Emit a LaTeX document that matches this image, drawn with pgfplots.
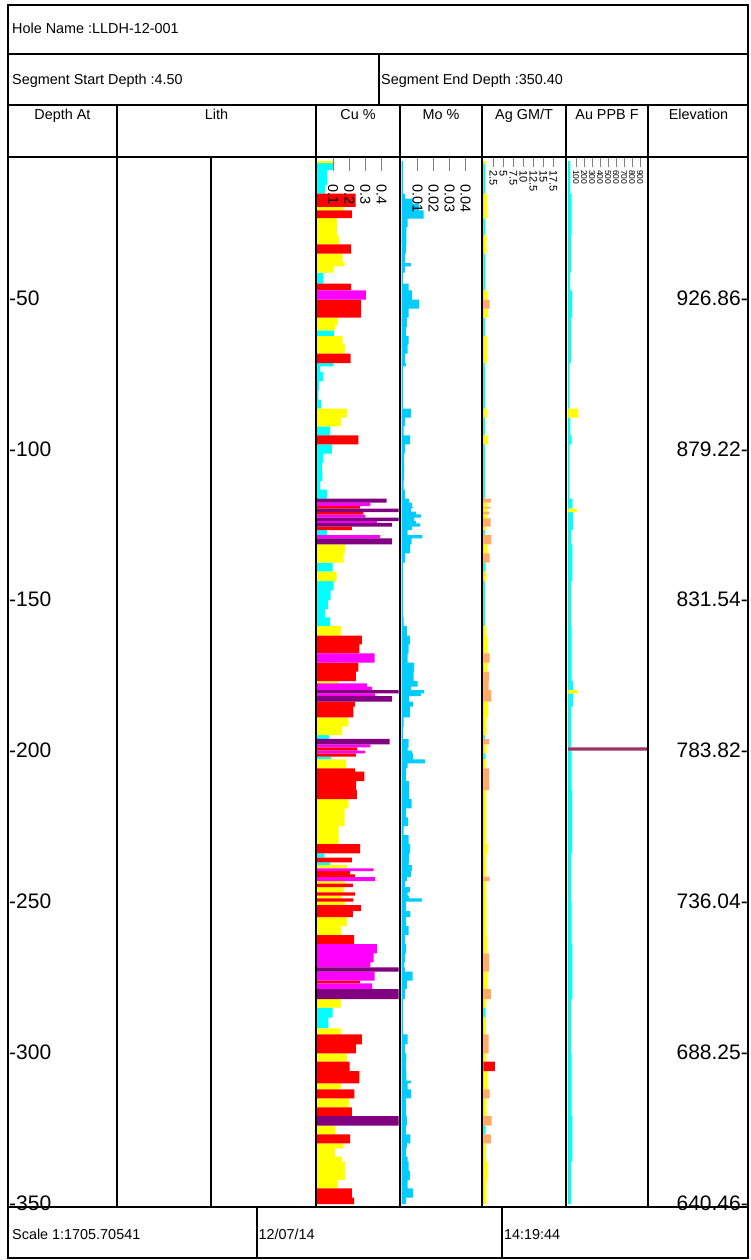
\documentclass[border=0pt]{standalone}
\usepackage{pgfplots}
\pgfplotsset{compat=1.18}
\usepackage{pgfplotstable}
\usepackage{fontspec}
\setmainfont{Liberation Sans}
\definecolor{cuc}{HTML}{00FFFF}
\definecolor{cuy}{HTML}{FFFF00}
\definecolor{cur}{HTML}{FF0000}
\definecolor{cum}{HTML}{FF00FF}
\definecolor{cup}{HTML}{800080}
\definecolor{mob}{HTML}{00CCFF}
\definecolor{ago}{HTML}{FFAA66}
\definecolor{aup}{HTML}{993366}

% Cu %: depth from, value, class (1 cyan, 2 yellow, 3 red, 4 magenta, 5 purple)
\pgfplotstableread{
d v k
4.5 0.10 2
5.25 0.10 1
7.57 0.065 1
12.54 0.05 1
15.42 0.24 3
19.83 0.165 2
20.93 0.216 3
23.48 0.124 2
29.21 0.14 2
32.20 0.212 3
35.31 0.159 2
38.07 0.171 2
39.49 0.103 2
41.61 0.041 1
45.26 0.212 3
47.45 0.302 4
50.56 0.274 3
56.53 0.128 2
59.05 0.113 2
60.71 0.105 1
62.60 0.159 2
65.35 0.173 2
68.46 0.208 3
71.55 0.103 1
72.64 0.02 1
74.53 0.041 1
77.51 0.014 1
80.60 0.01 1
83.71 0.027 1
86.69 0.185 2
89.68 0.148 2
92.53 0.082 1
95.51 0.257 3
98.50 0.093 1
101.61 0.041 1
104.69 0.031 1
107.68 0.035 1
110.66 0.02 1
113.55 0.062 1
116.53 0.43 5
117.86 0.33 4
118.95 0.265 3
119.84 0.6 5
120.94 0.288 3
121.77 0.30 4
122.76 0.6 5
123.92 0.37 4
124.58 0.463 5
125.81 0.216 3
126.91 0.062 1
128.56 0.39 4
129.66 0.463 5
131.64 0.175 2
134.63 0.165 2
137.74 0.097 1
140.73 0.123 2
143.81 0.103 1
146.89 0.086 1
150.11 0.068 1
153.09 0.051 1
155.84 0.082 1
158.73 0.15 2
161.94 0.278 3
164.79 0.263 3
167.78 0.356 4
170.90 0.257 3
173.88 0.241 3
176.96 0.134 2
177.72 0.309 4
178.85 0.34 4
179.94 0.6 5
181.04 0.36 4
181.93 0.463 5
183.82 0.237 3
185.48 0.226 3
188.99 0.195 2
192.11 0.154 2
194.86 0.076 1
196.18 0.449 5
197.94 0.33 4
198.94 0.251 3
200.06 0.298 4
200.93 0.241 3
202.05 0.088 1
202.92 0.181 2
205.90 0.237 3
207.03 0.294 3
210.11 0.243 3
213.09 0.247 3
216.08 0.195 2
219.16 0.171 2
222.14 0.171 2
225.03 0.134 2
228.01 0.134 2
231.00 0.267 3
234.08 0.047 1
235.47 0.216 3
237.06 0.082 1
237.96 0.185 2
239.05 0.35 4
239.95 0.206 3
241.04 0.237 3
241.93 0.36 4
243.26 0.175 2
244.15 0.222 3
245.25 0.165 2
247.00 0.237 3
248.13 0.154 2
249.00 0.226 3
250.12 0.175 2
251.22 0.274 3
253.20 0.222 3
255.19 0.185 2
258.17 0.15 2
261.16 0.23 3
264.14 0.37 4
267.22 0.35 4
270.21 0.33 4
271.86 0.6 5
273.32 0.356 4
276.31 0.267 3
277.17 0.342 4
279.06 0.6 5
282.37 0.148 2
285.26 0.097 1
288.58 0.072 1
292.09 0.15 2
294.08 0.278 3
297.39 0.241 3
300.38 0.185 2
303.16 0.202 3
306.24 0.263 3
310.32 0.148 2
312.31 0.232 3
315.29 0.2 2
318.27 0.216 3
321.16 0.6 5
324.38 0.115 2
327.23 0.206 3
330.21 0.165 2
331.87 0.113 2
334.65 0.154 2
336.31 0.175 2
342.38 0.128 2
345.12 0.216 3
348.24 0.23 3
350.4 0 1
}\cutab

% Mo %
\pgfplotstableread{
d v
4.5 0.0009
15.41 0.0023
17.07 0.0069
18.73 0.011
20.94 0.0138
23.70 0.0038
26.46 0.0031
32.54 0.0027
35.30 0.0023
38.40 0.0058
39.50 0.0021
41.60 0.0008
45.25 0.0044
47.46 0.0065
50.55 0.011
53.54 0.0044
56.52 0.0033
59.61 0.0027
62.60 0.0044
65.36 0.0038
68.45 0.0023
71.55 0.0027
72.65 0.0009
86.69 0.0058
89.67 0.0021
92.54 0.0013
95.52 0.0054
98.51 0.0023
101.60 0.0015
104.70 0.0017
107.68 0.0015
110.66 0.0013
113.54 0.0023
116.52 0.0048
117.85 0.0065
119.29 0.0073
119.72 0.0058
120.83 0.009
121.71 0.0121
122.82 0.0079
123.92 0.009
124.70 0.0117
125.80 0.0065
126.91 0.0038
128.56 0.0131
129.67 0.0063
131.66 0.0054
134.64 0.0023
137.74 0.0009
155.86 0.0013
158.73 0.0033
161.93 0.0052
164.81 0.0044
167.79 0.0038
170.89 0.0079
173.87 0.0075
176.96 0.01
178.84 0.0058
179.95 0.0142
181.05 0.0121
181.94 0.0048
183.81 0.0073
185.47 0.0052
189.01 0.0013
192.10 0.0008
196.19 0.0044
199.06 0.0038
200.06 0.0065
200.94 0.0073
202.93 0.0148
204.26 0.0038
205.91 0.0027
210.11 0.0048
216.08 0.0063
219.17 0.0027
222.15 0.0042
225.03 0.0013
228.01 0.0044
231.00 0.0054
234.09 0.0048
237.07 0.0044
237.95 0.0065
239.94 0.0058
241.93 0.0033
243.26 0.0023
245.25 0.0052
247.02 0.0038
248.12 0.0048
249.00 0.0127
250.11 0.0027
253.20 0.0056
255.19 0.0027
258.18 0.0044
261.16 0.0021
264.14 0.0027
267.24 0.0023
270.22 0.0017
271.88 0.0021
273.31 0.0069
276.30 0.0033
279.06 0.0021
282.37 0.0009
285.25 0.0008
292.10 0.001
294.09 0.0038
297.40 0.0021
300.39 0.0031
303.15 0.0027
306.24 0.0031
309.45 0.0058
310.33 0.0038
312.32 0.006
315.30 0.0027
318.29 0.0027
321.16 0.0033
324.36 0.0027
327.24 0.0056
330.22 0.0033
331.88 0.0027
334.64 0.0038
336.30 0.0044
339.28 0.0052
342.37 0.0038
345.14 0.0073
348.23 0.0027
350.4 0
}\motab

% Ag GM/T: class 1 cyan, 2 yellow, 3 orange, 4 red
\pgfplotstableread{
d v k
4.5 0.85 2
5.47 0.5 1
15.41 0.95 2
23.70 0.5 1
29.23 0.85 2
35.30 0.5 1
47.46 1.05 2
50.55 1.6 3
53.54 1.15 2
56.52 0.4 1
62.60 0.95 2
71.55 0.45 1
86.69 0.95 2
89.67 0.4 1
95.52 1.15 2
98.51 0.4 1
116.52 1.9 3
117.85 1.05 2
119.29 1.8 3
119.72 1.05 2
120.83 1.45 3
121.71 1.05 2
123.04 1.8 3
125.80 0.85 2
126.91 0.4 1
128.56 2.0 3
131.66 1.05 2
134.64 1.6 3
137.74 0.6 1
140.72 0.75 2
143.81 0.4 1
158.73 0.75 2
161.93 1.05 2
167.79 1.6 3
170.89 1.05 2
173.87 1.45 3
176.96 1.35 3
179.95 2.0 3
183.81 1.15 2
189.01 0.85 2
194.86 0.4 1
196.19 1.45 3
197.96 0.85 2
200.94 0.6 1
202.93 0.75 2
205.91 1.45 3
213.10 0.75 2
231.00 1.05 2
234.09 0.75 2
241.82 1.6 3
243.26 0.75 2
249.00 0.85 2
261.16 0.95 2
267.24 1.45 3
273.31 1.05 2
279.06 1.9 3
282.37 0.75 2
285.25 0.6 1
288.56 0.65 2
294.09 1.35 3
300.39 0.75 2
303.15 2.9 4
306.24 1.05 2
312.32 1.6 3
315.30 0.85 2
321.16 2.1 3
324.36 0.6 1
327.24 1.9 3
330.22 0.65 2
336.30 1.05 2
342.37 0.85 2
350.4 0 1
}\agtab

% Au PPB: class 1 cyan, 2 yellow, 5 purple
\pgfplotstableread{
d v k
4.5 30 1
15.4 45 1
29.2 35 1
41.6 25 1
47.45 50 1
56.53 35 1
71.55 20 1
86.69 130 2
89.68 30 1
95.51 45 1
98.5 20 1
116.53 55 1
119.84 110 2
120.94 60 1
126.91 40 1
131.64 55 1
143.81 35 1
158.73 45 1
176.96 60 1
179.94 120 2
181.04 60 1
185.48 40 1
198.94 2000 5
200.06 45 1
213.09 50 1
234.08 40 1
250.12 45 1
264.14 55 1
282.37 35 1
300.38 45 1
321.16 55 1
336.31 40 1
350.4 0 1
}\autab

\pgfplotsset{
  logcol/.style={scale only axis, height=1050pt, anchor=north west,
    ymin=3.26, ymax=351.33, y dir=reverse, xmin=0, axis on top,
    axis line style={draw=none}, ytick=\empty, scaled ticks=false,
    xtick pos=right, xticklabel pos=right, tick align=inside,
    major tick length=14pt,
    tick style={color=gray, line width=0.9pt},
    xticklabel style={rotate=-90, anchor=west, inner sep=0pt,
      font=\fontsize{14.4pt}{16pt}\selectfont},
    xticklabel shift=-27pt, clip=true},
  bars/.style={xbar interval, draw=none, fill=#1},
}
\newcommand{\hfont}{\fontsize{14.4pt}{17pt}\selectfont}
\newcommand{\dfont}{\fontsize{21pt}{24pt}\selectfont}

\begin{document}
\begin{tikzpicture}
\path[use as bounding box] (0pt,0pt) rectangle (750pt,-1260pt);

% Depth axis (labels only)
\begin{axis}[scale only axis, anchor=north west, at={(9pt,-157pt)},
  width=107pt, height=1050pt, ymin=3.26, ymax=351.33, y dir=reverse,
  xmin=0, xmax=1, xtick=\empty, axis line style={draw=none},
  ytick={50,100,150,200,250,300,350},
  yticklabels={-50,-100,-150,-200,-250,-300,-350},
  major tick length=0pt,
  yticklabel style={anchor=west, inner sep=0pt, font=\dfont}]
\addplot[draw=none] coordinates {(0,50) (0,350)};
\end{axis}

% Elevation axis (labels only)
\begin{axis}[scale only axis, anchor=north west, at={(649.5pt,-157pt)},
  width=98.5pt, height=1050pt, ymin=3.26, ymax=351.33, y dir=reverse,
  xmin=0, xmax=1, xtick=\empty, axis line style={draw=none},
  ytick={50,100,150,200,250,300,350},
  yticklabels={926.86-,879.22-,831.54-,783.82-,736.04-,688.25-,640.46-},
  yticklabel pos=right, major tick length=0pt,
  yticklabel style={anchor=east, inner sep=0pt, font=\dfont}]
\addplot[draw=none] coordinates {(0,50) (0,350)};
\end{axis}

% Cu %
\begin{axis}[logcol, at={(316.8pt,-157pt)}, width=81.7pt, xmax=0.504,
  xtick={0.1,0.2,0.3,0.4}, xticklabels={0.1,0.2,0.3,0.4}]
\addplot[bars=cuc] table[y=d, x expr={\thisrow{k}==1 ? \thisrow{v} : 0}] {\cutab};
\addplot[bars=cuy] table[y=d, x expr={\thisrow{k}==2 ? \thisrow{v} : 0}] {\cutab};
\addplot[bars=cur] table[y=d, x expr={\thisrow{k}==3 ? \thisrow{v} : 0}] {\cutab};
\addplot[bars=cum] table[y=d, x expr={\thisrow{k}==4 ? \thisrow{v} : 0}] {\cutab};
\addplot[bars=cup] table[y=d, x expr={\thisrow{k}==5 ? \thisrow{v} : 0}] {\cutab};
\end{axis}

% Mo %
\begin{axis}[logcol, at={(401.5pt,-157pt)}, width=79.5pt, xmax=0.0497,
  xtick={0.01,0.02,0.03,0.04}, xticklabels={0.01,0.02,0.03,0.04}]
\addplot[bars=mob] table[y=d, x=v] {\motab};
\end{axis}

% Ag GM/T
\begin{axis}[logcol, at={(483.3pt,-157pt)}, width=81.7pt, xmax=20.4,
  major tick length=10pt, xticklabel shift=-13pt,
  xticklabel style={font=\fontsize{11pt}{12pt}\selectfont},
  xtick={2.5,5,7.5,10,12.5,15,17.5}, xticklabels={2.5,5,7.5,10,12.5,15,17.5}]
\addplot[bars=cuc] table[y=d, x expr={\thisrow{k}==1 ? \thisrow{v} : 0}] {\agtab};
\addplot[bars=cuy] table[y=d, x expr={\thisrow{k}==2 ? \thisrow{v} : 0}] {\agtab};
\addplot[bars=ago] table[y=d, x expr={\thisrow{k}==3 ? \thisrow{v} : 0}] {\agtab};
\addplot[bars=cur] table[y=d, x expr={\thisrow{k}==4 ? \thisrow{v} : 0}] {\agtab};
\end{axis}

% Au PPB F
\begin{axis}[logcol, at={(568pt,-157pt)}, width=79pt, xmax=987.5,
  major tick length=10pt, xticklabel shift=-13pt,
  xticklabel style={font=\fontsize{8.5pt}{9pt}\selectfont},
  xtick={100,200,300,400,500,600,700,800,900},
  xticklabels={100,200,300,400,500,600,700,800,900}]
\addplot[bars=cuc] table[y=d, x expr={\thisrow{k}==1 ? \thisrow{v} : 0}] {\autab};
\addplot[bars=cuy] table[y=d, x expr={\thisrow{k}==2 ? \thisrow{v} : 0}] {\autab};
\addplot[bars=aup] table[y=d, x expr={\thisrow{k}==5 ? \thisrow{v} : 0}] {\autab};
\end{axis}

% frame
\begin{scope}[line width=2.8pt]
\draw (8pt,-5pt) rectangle (748pt,-1258pt);
\draw (8pt,-54pt) -- (748pt,-54pt);
\draw (8pt,-105pt) -- (748pt,-105pt);
\draw (8pt,-157pt) -- (748pt,-157pt);
\draw (8pt,-1207pt) -- (748pt,-1207pt);
\draw (379pt,-54pt) -- (379pt,-105pt);
\foreach \xx in {117,316,400,482,566,648}
  \draw (\xx pt,-105pt) -- (\xx pt,-1207pt);
\draw (211pt,-157pt) -- (211pt,-1207pt);
\draw (257pt,-1207pt) -- (257pt,-1258pt);
\draw (502pt,-1207pt) -- (502pt,-1258pt);
\end{scope}

% texts
\begin{scope}[every node/.style={inner sep=0pt, font=\hfont}]
\node[anchor=base west] at (12pt,-33.5pt) {Hole Name :LLDH-12-001};
\node[anchor=base west] at (12pt,-85pt) {Segment Start Depth :4.50};
\node[anchor=base west] at (381pt,-85pt) {Segment End Depth :350.40};
\node[anchor=base] at (62.5pt,-120pt) {Depth At};
\node[anchor=base] at (216.5pt,-120pt) {Lith};
\node[anchor=base] at (358pt,-120pt) {Cu \%};
\node[anchor=base] at (441pt,-120pt) {Mo \%};
\node[anchor=base] at (524pt,-120pt) {Ag GM/T};
\node[anchor=base] at (607pt,-120pt) {Au PPB F};
\node[anchor=base] at (698.5pt,-120pt) {Elevation};
\node[anchor=base west] at (12pt,-1239pt) {Scale 1:1705.70541};
\node[anchor=base west] at (258.5pt,-1239pt) {12/07/14};
\node[anchor=base west] at (504pt,-1239pt) {14:19:44};
\end{scope}
\end{tikzpicture}
\end{document}
